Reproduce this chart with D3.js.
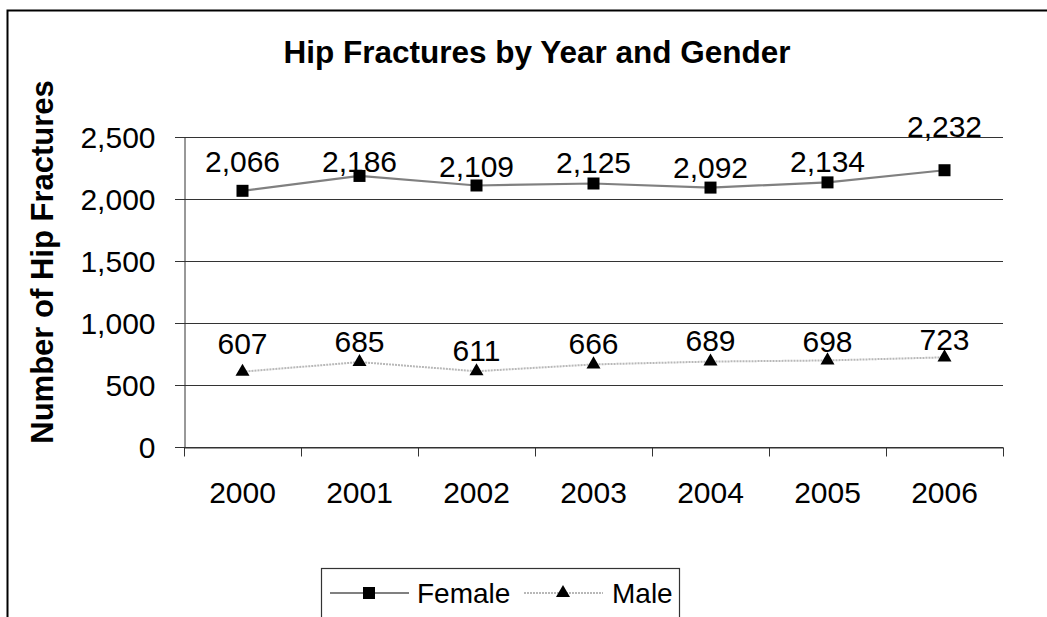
<!DOCTYPE html>
<html>
<head>
<meta charset="utf-8">
<script src="https://cdn.jsdelivr.net/npm/d3@7"></script>
<style>
  body { margin: 0; background: #fff; }
  text { font-family: "Liberation Sans", Arial, sans-serif; fill: #000; }
</style>
</head>
<body>
<div id="chart"></div>
<script>
// chart data
var years = ['2000', '2001', '2002', '2003', '2004', '2005', '2006']
var female = [2066, 2186, 2109, 2125, 2092, 2134, 2232]
var male = [607, 685, 611, 666, 689, 698, 723]
var yTicks = [0, 500, 1000, 1500, 2000, 2500]

// how far each data label sits above its point (px), as placed in the original
var femaleLabelGap = [19, 4, 8, 11, 10, 10, 33]
var maleLabelGap = [18, 10, 10, 10, 11, 8, 7]

var width = 1047, height = 617
var plot = {left: 184, right: 1003, top: 137, bottom: 447}

var svg = d3.select('#chart')
    .append('svg')
        .attr('width', width)
        .attr('height', height)

// outer chart frame (cut off at right and bottom)
svg.append('rect')
    .attr('x', 7.5).attr('y', 10.5)
    .attr('width', width + 20).attr('height', height + 20)
    .style('fill', 'none').style('stroke', '#000').style('stroke-width', 2)

var x = d3.scaleBand().domain(years).range([plot.left, plot.right])
var y = d3.scaleLinear().domain([0, 2500]).range([plot.bottom, plot.top])

// gridlines
svg.append('g')
    .selectAll('line')
    .data(yTicks)
    .enter()
    .append('line')
    .attr('x1', plot.left - 9).attr('x2', plot.right)
    .attr('y1', function(d) { return Math.round(y(d)) + 0.5 })
    .attr('y2', function(d) { return Math.round(y(d)) + 0.5 })
    .style('stroke', '#333').style('stroke-width', 1.2)

// y axis
var yAxis = svg.append('g')
    .attr('transform', 'translate(' + (plot.left + 0.5) + ',0)')
    .call(d3.axisLeft(y).tickValues(yTicks).tickSize(9).tickPadding(20).tickFormat(d3.format(',')))
yAxis.select('.domain').style('stroke', '#333')
yAxis.selectAll('line').style('stroke', '#333')
yAxis.selectAll('text').style('font-size', '30px').attr('dy', '0.36em')

// x axis
var xAxis = svg.append('g')
    .attr('transform', 'translate(0,' + (plot.bottom + 0.5) + ')')
    .call(d3.axisBottom(x).tickSize(0).tickPadding(34))
xAxis.select('.domain').style('stroke', '#333')
xAxis.selectAll('text').style('font-size', '30px')
xAxis.selectAll('.sep')
    .data(years.concat(['end']))
    .enter()
    .append('line')
    .attr('x1', function(d, i) { return Math.round(plot.left + i * x.bandwidth()) + 0.5 })
    .attr('x2', function(d, i) { return Math.round(plot.left + i * x.bandwidth()) + 0.5 })
    .attr('y1', 0).attr('y2', 9)
    .style('stroke', '#333')

function cx(d, i) { return x(years[i]) + x.bandwidth() / 2 }

var line = d3.line()
    .x(cx)
    .y(function(d) { return y(d) })

// male series
svg.append('path')
    .datum(male)
    .attr('d', line)
    .style('fill', 'none').style('stroke', '#b8b8b8').style('stroke-width', 2)
    .style('stroke-dasharray', '2,1')

svg.append('g')
    .selectAll('path')
    .data(male)
    .enter()
    .append('path')
    .attr('d', d3.symbol().type(d3.symbolTriangle).size(85))
    .attr('transform', function(d, i) { return 'translate(' + cx(d, i) + ',' + y(d) + ')' })
    .style('fill', '#000')

// female series
svg.append('path')
    .datum(female)
    .attr('d', line)
    .style('fill', 'none').style('stroke', '#808080').style('stroke-width', 2.2)

svg.append('g')
    .selectAll('rect')
    .data(female)
    .enter()
    .append('rect')
    .attr('x', function(d, i) { return cx(d, i) - 6 })
    .attr('y', function(d) { return y(d) - 6 })
    .attr('width', 12).attr('height', 12)
    .style('fill', '#000')

// data labels
var fmt = d3.format(',')
function addLabels(series, gaps) {
    svg.append('g')
        .selectAll('text')
        .data(series)
        .enter()
        .append('text')
        .attr('x', cx)
        .attr('y', function(d, i) { return y(d) - gaps[i] })
        .attr('text-anchor', 'middle')
        .style('font-size', '30px')
        .text(function(d) { return fmt(d) })
}
addLabels(female, femaleLabelGap)
addLabels(male, maleLabelGap)

// title
svg.append('text')
    .attr('x', 537).attr('y', 63)
    .attr('text-anchor', 'middle')
    .style('font-size', '31.5px').style('font-weight', 'bold')
    .text('Hip Fractures by Year and Gender')

// y axis title
svg.append('text')
    .attr('transform', 'translate(53,262) rotate(-90)')
    .attr('text-anchor', 'middle')
    .style('font-size', '31px').style('font-weight', 'bold')
    .text('Number of Hip Fractures')

// legend
var legend = svg.append('g')
legend.append('rect')
    .attr('x', 321.5).attr('y', 568.5)
    .attr('width', 358).attr('height', 60)
    .style('fill', '#fff').style('stroke', '#333').style('stroke-width', 1.2)

legend.append('line')
    .attr('x1', 330).attr('x2', 409).attr('y1', 593).attr('y2', 593)
    .style('stroke', '#808080').style('stroke-width', 2.2)
legend.append('rect')
    .attr('x', 363).attr('y', 587).attr('width', 12).attr('height', 12)
    .style('fill', '#000')
legend.append('text')
    .attr('x', 417).attr('y', 603)
    .style('font-size', '28px')
    .text('Female')

legend.append('line')
    .attr('x1', 524).attr('x2', 603).attr('y1', 593).attr('y2', 593)
    .style('stroke', '#b8b8b8').style('stroke-width', 2).style('stroke-dasharray', '2,1')
legend.append('path')
    .attr('d', d3.symbol().type(d3.symbolTriangle).size(85))
    .attr('transform', 'translate(563,593)')
    .style('fill', '#000')
legend.append('text')
    .attr('x', 612).attr('y', 603)
    .style('font-size', '28px')
    .text('Male')
</script>
</body>
</html>
